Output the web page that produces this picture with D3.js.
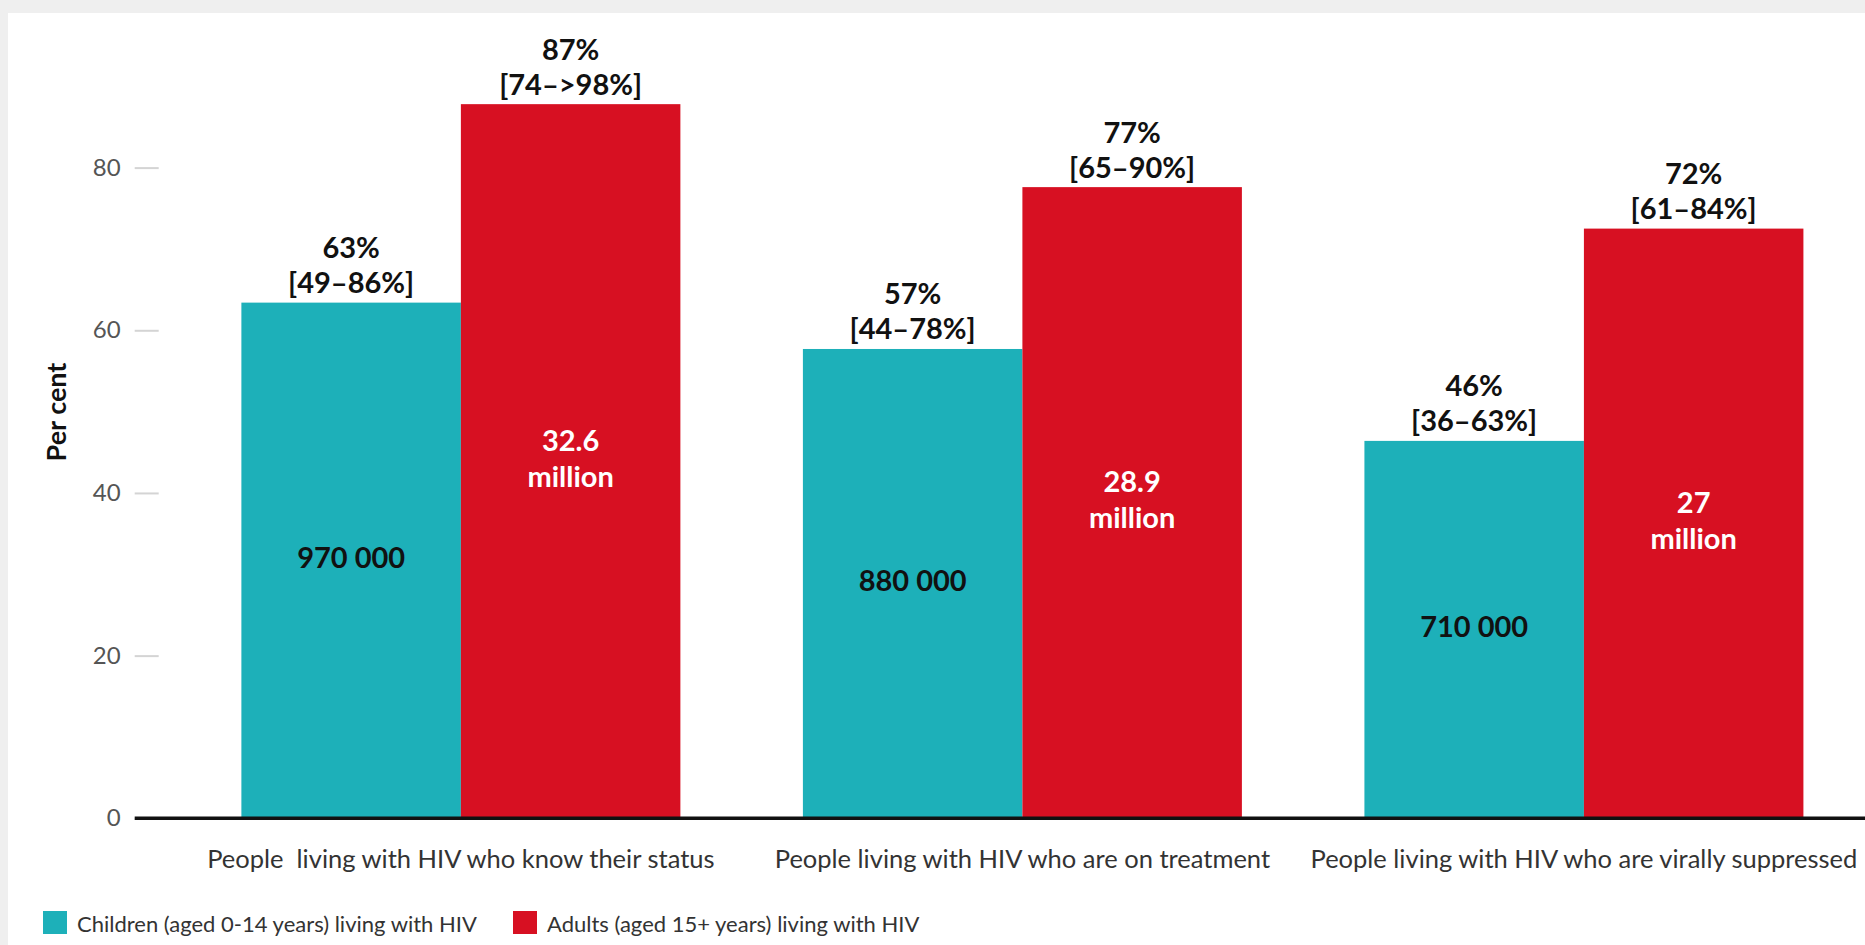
<!DOCTYPE html>
<html>
<head>
<meta charset="utf-8">
<script src="https://cdn.jsdelivr.net/npm/d3@7"></script>
<style>
  html, body { margin: 0; padding: 0; background: #efefef; }
  svg { display: block; }
  text { white-space: pre; }
</style>
</head>
<body>
<svg id="chart" width="1865" height="945"></svg>
<script>
// ---- data ----
const categories = [
  "People  living with HIV who know their status",
  "People living with HIV who are on treatment",
  "People living with HIV who are virally suppressed"
];
const seriesKeys = ["children", "adults"];
const seriesNames = [
  "Children (aged 0-14 years) living with HIV",
  "Adults (aged 15+ years) living with HIV"
];
const childrenValues = [63.4, 57.7, 46.4];
const adultsValues = [87.8, 77.6, 72.5];
const childrenPct = ["63%", "57%", "46%"];
const childrenRange = ["[49–86%]", "[44–78%]", "[36–63%]"];
const adultsPct = ["87%", "77%", "72%"];
const adultsRange = ["[74–>98%]", "[65–90%]", "[61–84%]"];
const childrenCounts = [["970 000"], ["880 000"], ["710 000"]];
const adultsCounts = [["32.6", "million"], ["28.9", "million"], ["27", "million"]];
const yTicks = [0, 20, 40, 60, 80];
const yTitle = "Per cent";

// ---- layout ----
const colors = { children: "#1db0b9", adults: "#d71022" };
const svg = d3.select("#chart");
const W = 1865, H = 945;

// white card
svg.append("rect").attr("x", 8).attr("y", 13).attr("width", W - 8).attr("height", H - 13).attr("fill", "#ffffff");

const y = d3.scaleLinear().domain([0, 80]).range([818.3, 167.6]);
const x0 = d3.scaleBand().domain(categories).range([134.7, 1910.1]).paddingInner(0.2182).paddingOuter(0.19);
const x1 = d3.scaleBand().domain(seriesKeys).range([0, x0.bandwidth()]).padding(0);
const color = d3.scaleOrdinal().domain(seriesKeys).range([colors.children, colors.adults]);

const rows = categories.map((c, i) => ({
  cat: c,
  items: [
    { key: "children", value: childrenValues[i], pct: childrenPct[i], range: childrenRange[i], inner: childrenCounts[i], innerColor: "#111" },
    { key: "adults", value: adultsValues[i], pct: adultsPct[i], range: adultsRange[i], inner: adultsCounts[i], innerColor: "#ffffff" }
  ]
}));

// y axis ticks
const yAxis = d3.axisLeft(y).tickValues(yTicks).tickSize(24).tickPadding(14);
const yg = svg.append("g").attr("transform", "translate(158.7,0)").call(yAxis);
yg.select(".domain").remove();
yg.selectAll(".tick line").attr("stroke", "#d4d4d4").attr("stroke-width", 2);
yg.selectAll(".tick text").attr("fill", "#555").attr("font-family", "Lato, sans-serif").attr("font-size", 24);

// y title
svg.append("text")
  .attr("transform", "translate(55,412) rotate(-90)")
  .attr("text-anchor", "middle").attr("dominant-baseline", "central")
  .attr("font-family", "Lato, sans-serif").attr("font-weight", 700).attr("font-size", 27)
  .attr("fill", "#111").text(yTitle);

// bars
const groups = svg.append("g").selectAll("g").data(rows).join("g")
  .attr("transform", d => `translate(${x0(d.cat)},0)`);

groups.selectAll("rect").data(d => d.items).join("rect")
  .attr("x", d => x1(d.key))
  .attr("y", d => y(d.value))
  .attr("width", x1.bandwidth())
  .attr("height", d => y(0) - y(d.value))
  .attr("fill", d => color(d.key));

const LF = 29;
// labels above bars
const lab = groups.selectAll("g.lab").data(d => d.items).join("g").attr("class", "lab");
lab.append("text")
  .attr("x", d => x1(d.key) + x1.bandwidth() / 2)
  .attr("y", d => y(d.value) - 56)
  .attr("text-anchor", "middle").attr("dominant-baseline", "central")
  .attr("font-family", "Lato, sans-serif").attr("font-weight", 700).attr("font-size", LF)
  .attr("fill", "#111").text(d => d.pct);
lab.append("text")
  .attr("x", d => x1(d.key) + x1.bandwidth() / 2)
  .attr("y", d => y(d.value) - 21)
  .attr("text-anchor", "middle").attr("dominant-baseline", "central")
  .attr("font-family", "Lato, sans-serif").attr("font-weight", 700).attr("font-size", LF)
  .attr("fill", "#111").text(d => d.range);

// labels inside bars
lab.each(function(d) {
  const g = d3.select(this);
  const cx = x1(d.key) + x1.bandwidth() / 2;
  const mid = (y(d.value) + y(0)) / 2 - 4;
  const n = d.inner.length;
  d.inner.forEach((t, j) => {
    g.append("text")
      .attr("x", cx)
      .attr("y", mid + (j - (n - 1) / 2) * 36)
      .attr("text-anchor", "middle").attr("dominant-baseline", "central")
      .attr("font-family", "Lato, sans-serif").attr("font-weight", 700).attr("font-size", LF)
      .attr("fill", d.innerColor).text(t);
  });
});

// baseline
svg.append("line").attr("x1", 134.7).attr("x2", W).attr("y1", y(0)).attr("y2", y(0))
  .attr("stroke", "#111").attr("stroke-width", 3.5);

// category labels
const xAxis = d3.axisBottom(x0).tickSize(0).tickPadding(0);
const xg = svg.append("g").attr("transform", `translate(0,${y(0)})`).call(xAxis);
xg.select(".domain").remove();
xg.selectAll(".tick text")
  .attr("y", 40).attr("dy", 0).attr("dominant-baseline", "central")
  .attr("fill", "#333").attr("font-family", "Lato, sans-serif").attr("font-size", 25.5);

// legend
const legendX = [43, 513];
const leg = svg.append("g").selectAll("g").data(seriesKeys).join("g")
  .attr("transform", (d, i) => `translate(${legendX[i]},911)`);
leg.append("rect").attr("width", 24).attr("height", 23).attr("fill", d => color(d));
leg.append("text").attr("x", 34).attr("y", 12).attr("dominant-baseline", "central")
  .attr("fill", "#333").attr("font-family", "Lato, sans-serif").attr("font-size", 22)
  .text((d, i) => seriesNames[i]);
</script>
</body>
</html>
